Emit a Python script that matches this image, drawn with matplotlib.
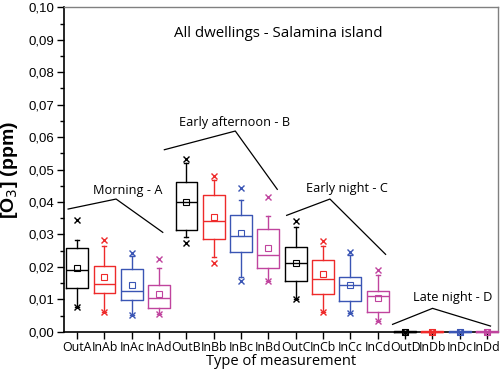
import matplotlib
matplotlib.use("Agg")
import matplotlib.pyplot as plt

categories = ["OutA", "InAb", "InAc", "InAd", "OutB", "InBb", "InBc", "InBd",
              "OutC", "InCb", "InCc", "InCd", "OutD", "InDb", "InDc", "InDd"]
q1 = [0.0136, 0.0120, 0.0099, 0.0073, 0.0313, 0.0287, 0.0246, 0.0196,
      0.0155, 0.0117, 0.0096, 0.0062, 0.0000, 0.0000, 0.0000, 0.0000]
median = [0.0190, 0.0146, 0.0125, 0.0105, 0.0401, 0.0341, 0.0295, 0.0236,
          0.0212, 0.0163, 0.0143, 0.0110, 0.0000, 0.0000, 0.0000, 0.0000]
q3 = [0.0257, 0.0202, 0.0192, 0.0143, 0.0461, 0.0421, 0.0361, 0.0316,
      0.0261, 0.0221, 0.0168, 0.0125, 0.0001, 0.0001, 0.0001, 0.0001]
mean = [0.0196, 0.0169, 0.0144, 0.0116, 0.0401, 0.0354, 0.0303, 0.0257,
        0.0212, 0.0179, 0.0143, 0.0103, 0.0000, 0.0000, 0.0000, 0.0000]
whisk_lo = [0.0075, 0.0062, 0.0052, 0.0055, 0.0291, 0.0229, 0.0170, 0.0156,
            0.0102, 0.0061, 0.0059, 0.0032, 0.0000, 0.0000, 0.0000, 0.0000]
whisk_hi = [0.0283, 0.0263, 0.0233, 0.0197, 0.0520, 0.0468, 0.0406, 0.0356,
            0.0322, 0.0265, 0.0236, 0.0175, 0.0001, 0.0001, 0.0001, 0.0001]
val_min = [0.0075, 0.0062, 0.0052, 0.0055, 0.0274, 0.0211, 0.0157, 0.0156,
           0.0102, 0.0061, 0.0059, 0.0032, 0.0000, 0.0000, 0.0000, 0.0000]
val_max = [0.0346, 0.0283, 0.0242, 0.0223, 0.0531, 0.0481, 0.0442, 0.0416,
           0.0341, 0.0281, 0.0245, 0.0190, 0.0000, 0.0000, 0.0000, 0.0000]
yticks = [0.00, 0.01, 0.02, 0.03, 0.04, 0.05, 0.06, 0.07, 0.08, 0.09, 0.10]
ytick_labels = ["0,00", "0,01", "0,02", "0,03", "0,04", "0,05", "0,06", "0,07",
                "0,08", "0,09", "0,10"]
group_labels = ["Morning - A", "Early afternoon - B", "Early night - C", "Late night - D"]

palette = ["#000000", "#ee2a2a", "#3a55b4", "#c0449e"]

fig = plt.figure(figsize=(5.0, 3.77), dpi=100)
ax = fig.add_axes([0.128, 0.120, 0.868, 0.8606])

positions = list(range(1, len(categories) + 1))
stats = []
for i in range(len(categories)):
    stats.append(dict(med=median[i], q1=q1[i], q3=q3[i], whislo=whisk_lo[i],
                      whishi=whisk_hi[i], mean=mean[i], fliers=[]))

for i, st in enumerate(stats):
    c = palette[i % 4]
    arts = ax.bxp([st], positions=[positions[i]], widths=0.8, showmeans=True,
                  showfliers=False, patch_artist=False,
                  boxprops=dict(color=c, linewidth=1.0),
                  medianprops=dict(color=c, linewidth=1.0),
                  whiskerprops=dict(color=c, linewidth=1.0),
                  capprops=dict(color=c, linewidth=1.0),
                  capwidths=0.15,
                  meanprops=dict(marker="s", markerfacecolor="none", markeredgecolor=c,
                                 markersize=4, markeredgewidth=0.8))
    for key in arts:
        for a in arts[key]:
            a.set_clip_on(False)
            a.set_zorder(3)
    ax.plot([positions[i], positions[i]], [val_min[i], val_max[i]], ls="none",
            marker="x", color=c, markersize=4, markeredgewidth=1.0, clip_on=False,
            zorder=3)

ax.set_xlim(0.52, 16.4)
ax.set_ylim(0.0, 0.10)
ax.set_yticks(yticks)
ax.set_yticklabels(ytick_labels, family="Liberation Sans", fontsize=9.5)
ax.set_yticks([0.005 + 0.01 * k for k in range(10)], minor=True)
ax.set_xticks(positions)
ax.set_xticklabels(categories, family="Open Sans", fontsize=8.9)
ax.tick_params(axis="both", which="major", direction="out", length=5, width=1.0)
ax.tick_params(axis="y", which="minor", direction="out", length=3, width=1.0)
ax.tick_params(axis="x", pad=2)
ax.tick_params(axis="y", pad=2)
for s in ["left", "bottom"]:
    ax.spines[s].set_linewidth(1.2)
for s in ["top", "right"]:
    ax.spines[s].set_color("#808080")
    ax.spines[s].set_linewidth(1.0)

ax.set_xlabel("Type of measurement", family="Open Sans", fontsize=10.5, labelpad=0)
ax.set_ylabel(r"[O$_3$] (ppm)", family="Liberation Sans", fontsize=14,
              fontweight="bold", labelpad=6)

# Annotations (in data coords)
def px2data(px, py):
    return 1 + (px - 77.0) / 27.35, (331.7 - py) / 3244.0

def bracket(pts):
    xs, ys = zip(*[px2data(*p) for p in pts])
    ax.plot(xs, ys, color="black", linewidth=0.9, clip_on=False)

bracket([(68, 209), (116, 199), (162.7, 232.3)])
bracket([(164.3, 149.7), (235.3, 131), (277.3, 189.3)])
bracket([(286.7, 215.3), (330, 199), (385.7, 254.3)])
bracket([(392.7, 324.3), (432.7, 308.3), (490.7, 326)])

label_pos = [(128, 190), (235, 122), (347, 188), (453, 297)]
for lab, (px, py) in zip(group_labels, label_pos):
    x, y = px2data(px, py)
    ax.text(x, y, lab, ha="center", va="center", family="Open Sans", fontsize=9.2)

tx, ty = px2data(278, 33)
ax.text(tx, ty, "All dwellings - Salamina island", ha="center", va="center",
        family="Open Sans", fontsize=10.8)

fig.savefig("out.png", dpi=100)
